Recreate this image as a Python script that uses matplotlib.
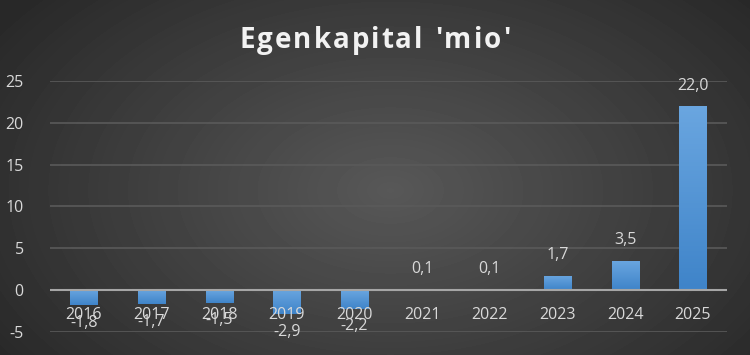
import numpy as np
import matplotlib.pyplot as plt
from matplotlib.colors import LinearSegmentedColormap

years = ['2016', '2017', '2018', '2019', '2020', '2021', '2022', '2023', '2024', '2025']
values = [-1.8, -1.7, -1.5, -2.9, -2.2, 0.1, 0.1, 1.7, 3.5, 22.0]
yticks = [-5, 0, 5, 10, 15, 20, 25]
title = "Egenkapital 'mio'"

plt.rcParams['font.family'] = ['Open Sans', 'DejaVu Sans']
txt = '#d9d9d9'

fig = plt.figure(figsize=(7.5, 3.55), dpi=100)

# radial background
bg = fig.add_axes([0, 0, 1, 1], zorder=0)
yy, xx = np.mgrid[0:355, 0:750]
r = np.sqrt(((xx - 390) / 480.0) ** 2 + ((yy - 190) / 300.0) ** 2)
r = np.clip(r, 0, 1)
shade = 0x58 / 255 + (0x28 / 255 - 0x58 / 255) * r
bg.imshow(shade, cmap='gray', vmin=0, vmax=1, aspect='auto', interpolation='bilinear')
bg.axis('off')

ax = fig.add_axes([0.0667, 0.0648, 0.902, 0.7072], zorder=1)
ax.patch.set_alpha(0)

x = np.arange(len(years))
bars = ax.bar(x, values, width=0.4, color='#5095d8', zorder=3)

# vertical gradient on bars
cmap = LinearSegmentedColormap.from_list('b', ['#6aa6e0', '#3f84c9'])
grad = np.linspace(0, 1, 100).reshape(-1, 1)
for b in bars:
    bx, by = b.get_x(), b.get_y()
    w, h = b.get_width(), b.get_height()
    y0, y1 = min(by, by + h), max(by, by + h)
    im = ax.imshow(grad, cmap=cmap, aspect='auto', extent=[bx, bx + w, y0, y1],
                   origin='upper', zorder=3.5)
    im.set_clip_path(b)

ax.set_xlim(-0.5, len(years) - 0.5)
ax.set_ylim(-5, 25)
ax.set_yticks(yticks)
ax.set_yticklabels([str(t) for t in yticks])
for t in yticks:
    if t != 0:
        ax.axhline(t, color='#5a5a5a', lw=1.2, zorder=1)
ax.axhline(0, color='#a6a6a6', lw=1.5, zorder=4)

ax.set_xticks(x)
ax.set_xticklabels(years)
for s in ax.spines.values():
    s.set_visible(False)
ax.tick_params(axis='both', length=0, colors=txt, labelsize=11.5)
ax.tick_params(axis='y', pad=19)
# x labels sit just below the zero line
for lab in ax.get_xticklabels():
    lab.set_visible(False)
for xi, yr in zip(x, years):
    ax.annotate(yr, (xi, 0), xytext=(0, -12), textcoords='offset points',
                ha='center', va='top', color=txt, fontsize=11.5, zorder=5)

for xi, v in zip(x, values):
    lbl = f'{v:.1f}'.replace('.', ',')
    if v >= 0:
        ax.annotate(lbl, (xi, v), xytext=(0, 9), textcoords='offset points',
                    ha='center', va='bottom', color=txt, fontsize=11.5, zorder=5)
    else:
        ax.annotate(lbl, (xi, v), xytext=(0, -7), textcoords='offset points',
                    ha='center', va='top', color=txt, fontsize=11.5, zorder=5)

# title with letter spacing, drawn char by char
renderer = fig.canvas.get_renderer()
tkw = dict(color='#f2f2f2', fontsize=20, fontweight='bold', va='center', ha='left')
spacing = 2.0
widths = []
for ch in title:
    t = fig.text(0, 0, ch if ch != ' ' else 'i', **tkw)
    widths.append(t.get_window_extent(renderer).width)
    t.remove()
total = sum(widths) + spacing * (len(title) - 1)
xpos = 375 - total / 2
for ch, w in zip(title, widths):
    if ch != ' ':
        fig.text(xpos / 750, 0.885, ch, **tkw)
    xpos += w + spacing

fig.savefig('out.png', dpi=100)
